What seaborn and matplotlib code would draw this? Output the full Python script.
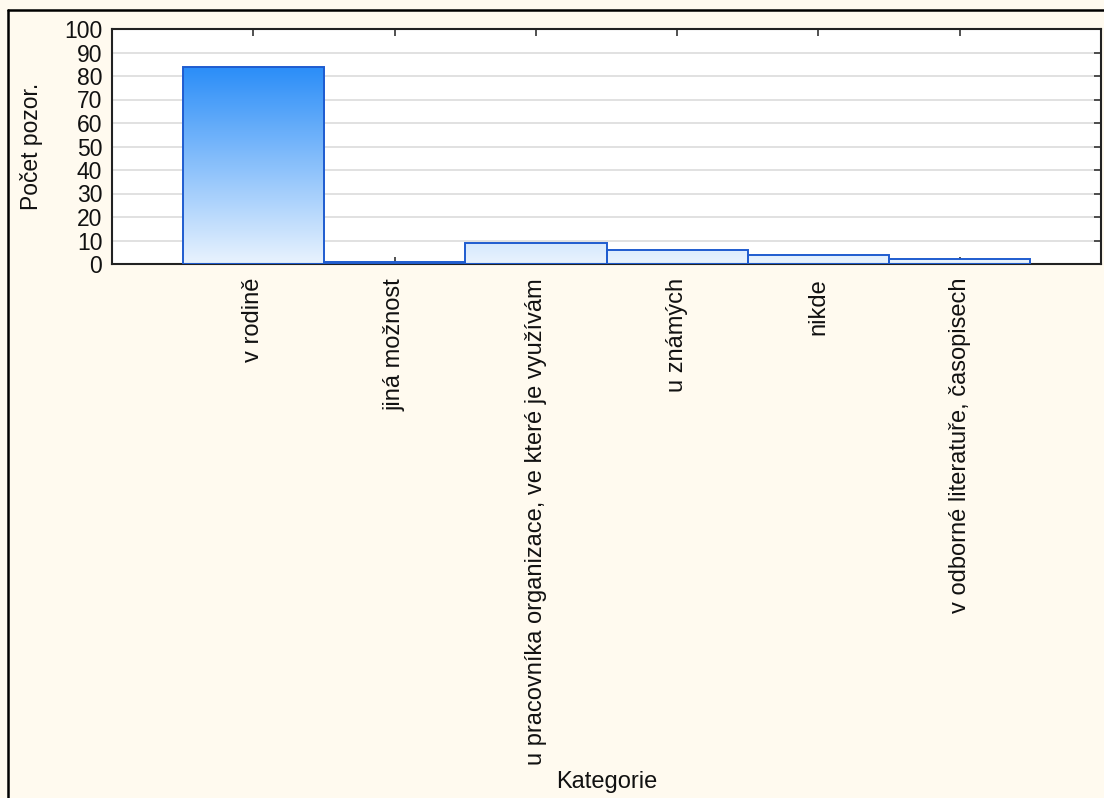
import matplotlib
matplotlib.use("Agg")
import matplotlib.pyplot as plt
import seaborn as sns
import numpy as np
import pandas as pd
from matplotlib.colors import LinearSegmentedColormap
from matplotlib.lines import Line2D

categories = [
    "v rodině",
    "jiná možnost",
    "u pracovníka organizace, ve které je využívám",
    "u známých",
    "nikde",
    "v odborné literatuře, časopisech",
]
counts = [84, 1, 9, 6, 4, 2]
y_ticks = [0, 10, 20, 30, 40, 50, 60, 70, 80, 90, 100]

bg = "#FFFAEF"
edge = "#1F5CCF"
top_col = "#2A8DF8"
bot_col = "#E9F3FE"

sns.set_theme(style="white")
plt.rcParams['font.family'] = ['Liberation Sans', 'DejaVu Sans']

W, H = 1104, 798
fig = plt.figure(figsize=(W / 100, H / 100), dpi=100, facecolor=bg)
ax = fig.add_axes([112 / W, 1 - 264 / H, 989 / W, 235 / H])
ax.set_facecolor("white")

df = pd.DataFrame({"Kategorie": categories, "Počet pozor.": counts})
sns.barplot(data=df, x="Kategorie", y="Počet pozor.", ax=ax, width=1.0,
            color=top_col, edgecolor=edge, linewidth=1.4, zorder=3)

cmap = LinearSegmentedColormap.from_list("g", [bot_col, top_col])
grad = np.linspace(0, 1, 256).reshape(-1, 1)
ymax_grad = max(counts)
for p in list(ax.patches):
    x0 = p.get_x()
    x1 = x0 + p.get_width()
    im = ax.imshow(grad, extent=[x0, x1, 0, ymax_grad], origin="lower",
                   aspect="auto", cmap=cmap, zorder=2.5, interpolation="bilinear")
    im.set_clip_path(p)
    p.set_facecolor("none")

ax.set_xlim(-1, 6)
ax.set_ylim(0, 100)
ax.set_yticks(y_ticks)
ax.set_yticklabels([str(v) for v in y_ticks])
ax.yaxis.grid(True, color="#DEDEDE", linewidth=1.3)
ax.xaxis.grid(False)
ax.set_axisbelow(True)

for s in ax.spines.values():
    s.set_visible(True)
    s.set_color("#222222")
    s.set_linewidth(1.5)

ax.tick_params(axis="x", direction="in", top=True, bottom=True, length=5,
               width=1.2, color="#333333", pad=10, labelsize=17,
               labelcolor="#111111", labelrotation=90)
ax.tick_params(axis="y", direction="in", left=False, right=True, length=5,
               width=1.2, color="#333333", pad=7, labelsize=16.5,
               labelcolor="#111111")
for t in ax.get_xticklabels():
    t.set_va("top")
    t.set_ha("center")

ax.set_xlabel("Kategorie", fontsize=17, color="#111111")
ax.set_ylabel("Počet pozor.", fontsize=16.5, color="#111111")
ax.xaxis.set_label_coords(0.5, -(771 - 264) / 235)
ax.yaxis.set_label_coords(-(112 - 43) / 989, 0.5)

# outer frame (partially cropped)
fig.add_artist(Line2D([8 / W, 8 / W], [0, 1 - 10 / H], transform=fig.transFigure,
                      color="black", linewidth=1.8))
fig.add_artist(Line2D([8 / W, 1], [1 - 10 / H, 1 - 10 / H], transform=fig.transFigure,
                      color="black", linewidth=1.8))

fig.savefig("out.png", dpi=100, facecolor=bg)
